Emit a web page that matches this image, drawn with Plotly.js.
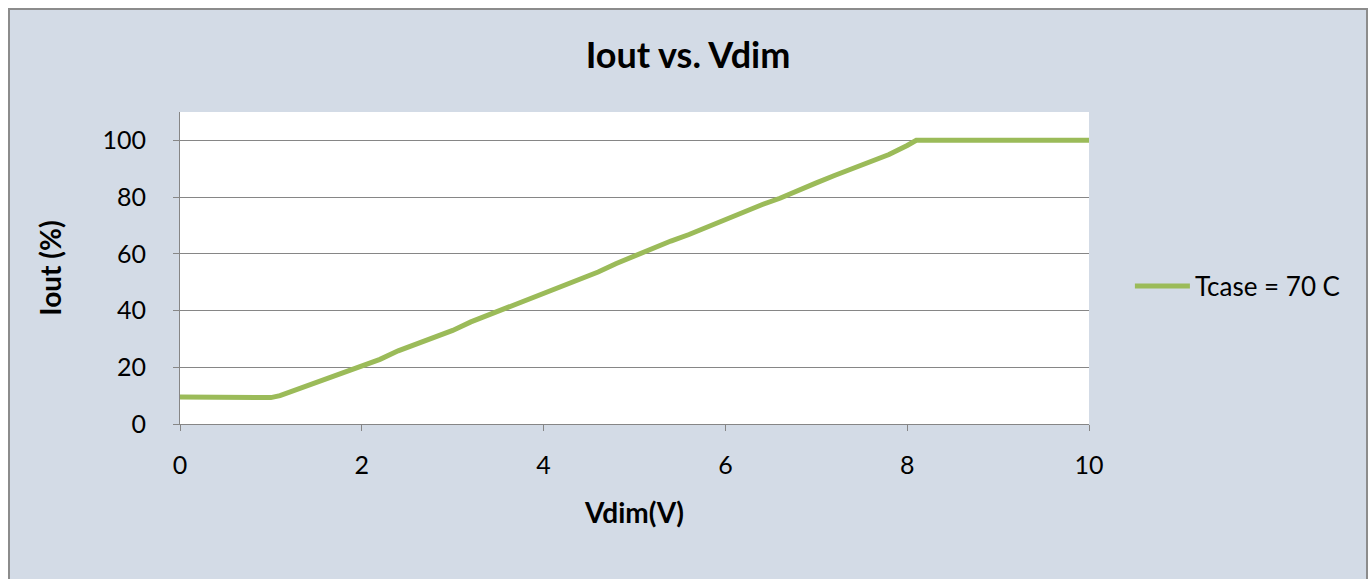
<!DOCTYPE html>
<html>
<head>
<meta charset="utf-8">
<script src="https://cdn.plot.ly/plotly-3.0.1.min.js"></script>
<style>
  html, body { margin: 0; padding: 0; background: #ffffff; width: 1369px; height: 579px; overflow: hidden; }
  #chart {
    position: absolute; left: 8px; top: 8px;
    width: 1356px; height: 571px;
    border-left: 2px solid #8c8c8c; border-top: 2px solid #8c8c8c; border-right: 2px solid #8c8c8c;
    background: #d3dbe6;
  }
</style>
</head>
<body>
<div id="chart"></div>
<script>
// Data
const seriesName = "Tcase = 70 C";
const vdim = [0, 0.5, 0.9, 1.0, 1.1, 1.2, 1.4, 1.6, 1.8, 2.0, 2.2, 2.4, 2.6, 2.8, 3.0, 3.2, 3.4, 3.6, 3.8, 4.0,
              4.2, 4.4, 4.6, 4.8, 5.0, 5.2, 5.4, 5.6, 5.8, 6.0, 6.2, 6.4, 6.6, 6.8, 7.0, 7.2, 7.4, 7.6, 7.8, 8.0, 8.1, 9.0, 10.0];
const iout = [9.5, 9.5, 9.5, 9.3, 10.0, 11.2, 13.5, 15.6, 18.3, 20.6, 22.8, 25.8, 28.2, 30.7, 33.0, 36.0, 38.5, 41.0, 43.5, 46.0,
              48.6, 51.3, 53.6, 56.6, 59.3, 62.0, 64.5, 66.8, 69.5, 72.0, 74.8, 77.3, 79.6, 82.5, 85.0, 87.6, 90.0, 92.8, 95.0, 98.2, 100, 100, 100];
const xTicks = [0, 2, 4, 6, 8, 10];
const yTicks = [0, 20, 40, 60, 80, 100];

const font = "Lato, 'Open Sans', 'Liberation Sans', sans-serif";

const trace = {
  x: vdim, y: iout, type: 'scatter', mode: 'lines', name: seriesName,
  line: { color: '#9bbb59', width: 5 }
};

const layout = {
  width: 1356, height: 569,
  paper_bgcolor: '#d3dbe6', plot_bgcolor: '#ffffff',
  margin: { l: 170, r: 277, t: 102, b: 155 },
  font: { family: font, size: 25, color: '#000000' },
  title: { text: '<b>Iout vs. Vdim</b>', font: { family: font, size: 36, color: '#000' },
           xref: 'container', x: 0.5, xanchor: 'center', yref: 'container', y: 0.921, yanchor: 'middle' },
  xaxis: {
    range: [0, 10], tickvals: xTicks, ticktext: xTicks.map(String),
    showgrid: false, zeroline: false,
    showline: true, linecolor: '#868686', linewidth: 1,
    ticks: 'outside', ticklen: 6, tickcolor: '#868686',
    ticklabelstandoff: 13,
    tickfont: { family: font, size: 25, color: '#000' },
    title: { text: '<b>Vdim(V)</b>', font: { family: font, size: 28, color: '#000' }, standoff: 25 }
  },
  yaxis: {
    range: [0, 110], tickvals: yTicks, ticktext: yTicks.map(String),
    showgrid: true, gridcolor: '#868686', gridwidth: 1, zeroline: false,
    showline: true, linecolor: '#868686', linewidth: 1,
    ticks: 'outside', ticklen: 6, tickcolor: '#868686',
    ticklabelstandoff: 22,
    tickfont: { family: font, size: 25, color: '#000' },
    title: { text: '<b>Iout (%)</b>', font: { family: font, size: 28, color: '#000' }, standoff: 32 }
  },
  showlegend: true,
  legend: {
    x: 1.045, xanchor: 'left', y: 0.442, yanchor: 'middle', itemwidth: 55,
    bgcolor: 'rgba(0,0,0,0)', font: { family: font, size: 26, color: '#000' }
  }
};

Plotly.newPlot('chart', [trace], layout, { displayModeBar: false, staticPlot: true });
</script>
</body>
</html>
